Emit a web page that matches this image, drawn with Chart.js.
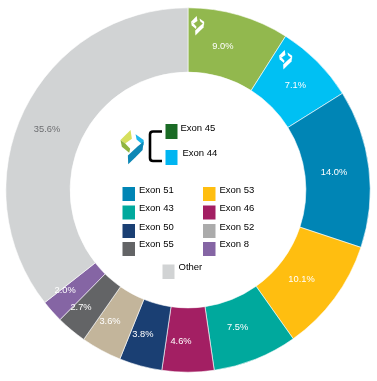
<!DOCTYPE html>
<html>
<head>
<meta charset="utf-8">
<style>
html,body{margin:0;padding:0;background:#fff;overflow:hidden}
#wrap{position:relative;width:377px;height:381px}
</style>
<script src="https://cdn.jsdelivr.net/npm/chart.js@4"></script>
</head>
<body>
<div id="wrap"><canvas id="c" width="377" height="381"></canvas></div>
<script>
const categories = ["Exon 45","Exon 44","Exon 51","Exon 53","Exon 43","Exon 46","Exon 50","Exon 52","Exon 55","Exon 8","Other"];
const values = [9.0,7.1,14.0,10.1,7.5,4.6,3.8,3.6,2.7,2.0,35.6];
const sliceColors = ["#92b84e","#00c0f3","#0085b5","#ffbe10","#00a99d","#a31f63","#1a3f73","#c3b59b","#636466","#8565a4","#d1d3d4"];
const legendColors = {"Exon 45":"#1a6b25","Exon 44":"#00b5f1","Exon 51":"#0085b5","Exon 53":"#ffbe10","Exon 43":"#00a99d","Exon 46":"#a31f63","Exon 50":"#1a3f73","Exon 52":"#ababab","Exon 55":"#636466","Exon 8":"#8565a4","Other":"#d1d3d4"};
const legendRows = [["Exon 51","Exon 53"],["Exon 43","Exon 46"],["Exon 50","Exon 52"],["Exon 55","Exon 8"]];
const labelNudgeX = [-7,1,-3,-7,-6,-7,-6,-6.5,-11,-11,-6];
const labelNudgeY = [0.5,1,0,0,-1.5,1,0,-1,2,1,5];

const logoPieces = [
  ["#d6df5c",[[92,90],[96,116],[76,130],[62,120]]],
  ["#8fb43f",[[62,120],[76,130],[91,146],[88,158],[66,140]]],
  ["#1cb6ea",[[107,103],[131,120],[131,136],[110,118]]],
  ["#0d87b5",[[131,124],[128,150],[106,172],[85,192],[84,166],[112,140]]]
];
function drawLogo(ctx, x, y, s, white){
  logoPieces.forEach(([col,pts])=>{
    ctx.fillStyle = white ? "#ffffff" : col;
    ctx.beginPath();
    pts.forEach((p,i)=>{
      const px = x + (p[0]-62)*s, py = y + (p[1]-90)*s;
      i ? ctx.lineTo(px,py) : ctx.moveTo(px,py);
    });
    ctx.closePath(); ctx.fill();
  });
}
function swatch(ctx,name,x,y,w,h){
  ctx.fillStyle = legendColors[name];
  ctx.fillRect(x,y,w,h);
}
const overlay = {
  id:"overlay",
  afterDatasetsDraw(chart){
    const ctx = chart.ctx, arcs = chart.getDatasetMeta(0).data;
    ctx.save();
    ctx.font = "9.3px 'Liberation Sans', Arial, sans-serif";
    ctx.textAlign = "center"; ctx.textBaseline = "middle";
    arcs.forEach((arc,i)=>{
      const mid = (arc.startAngle+arc.endAngle)/2, r = (arc.innerRadius+arc.outerRadius)/2;
      const x = arc.x + Math.cos(mid)*r + labelNudgeX[i], y = arc.y + Math.sin(mid)*r + labelNudgeY[i];
      ctx.fillStyle = categories[i]==="Other" ? "#6d6e71" : "#ffffff";
      ctx.fillText(values[i].toFixed(1)+"%", x, y);
    });
    drawLogo(ctx,191,16,0.19,true);
    drawLogo(ctx,279,50,0.19,true);
    drawLogo(ctx,120.5,130,0.335,false);
    ctx.strokeStyle="#000"; ctx.lineWidth=2.6; ctx.lineJoin="round";
    ctx.beginPath();
    ctx.moveTo(162,131.5); ctx.lineTo(153,131.5);
    ctx.quadraticCurveTo(150,131.5,150,134.5); ctx.lineTo(150,158);
    ctx.quadraticCurveTo(150,161,153,161); ctx.lineTo(162,161);
    ctx.stroke();
    ctx.textAlign="left";
    ctx.font = "9.5px 'Liberation Sans', Arial, sans-serif";
    swatch(ctx,"Exon 45",165.5,124,12,15);
    swatch(ctx,"Exon 44",165.5,150,12,15);
    ctx.fillStyle="#000";
    ctx.fillText("Exon 45",180.5,128.5);
    ctx.fillText("Exon 44",182.5,153.5);
    const rowY=[187,205.5,224,242], textY=[190,208,227,244.5], colX=[122.5,203];
    legendRows.forEach((row,ri)=>row.forEach((name,ci)=>{
      swatch(ctx,name,colX[ci],rowY[ri],12.5,14);
      ctx.fillStyle="#000";
      ctx.fillText(name,colX[ci]+16.5,textY[ri]);
    }));
    swatch(ctx,"Other",162.5,264.5,12,14.5);
    ctx.fillStyle="#000";
    ctx.fillText("Other",178.5,267);
    ctx.restore();
  }
};
new Chart(document.getElementById("c"),{
  type:"doughnut",
  data:{labels:categories,datasets:[{data:values,backgroundColor:sliceColors,borderColor:"#ffffff",borderWidth:0.6}]},
  options:{
    responsive:false,animation:false,cutout:"64.7%",rotation:0,
    layout:{padding:{left:5.5,right:6.5,top:7.5,bottom:8.5}},
    plugins:{legend:{display:false},tooltip:{enabled:false},title:{display:false}}
  },
  plugins:[overlay]
});
</script>
</body>
</html>
